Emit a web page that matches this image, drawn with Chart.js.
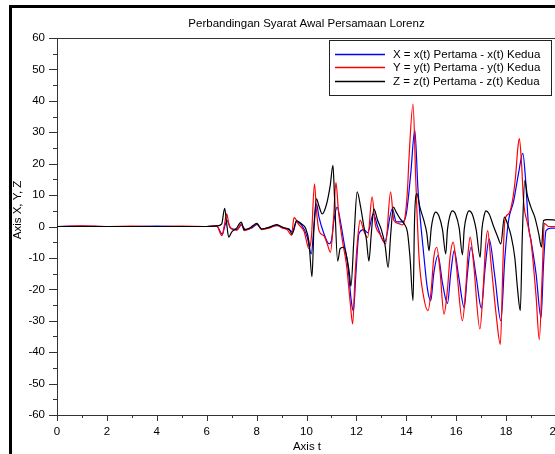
<!DOCTYPE html>
<html lang="id">
<head>
    <meta charset="UTF-8">
    <title>Perbandingan Syarat Awal Persamaan Lorenz</title>
    <script src="https://cdn.jsdelivr.net/npm/chart.js"></script>
    <style>
        html, body { margin: 0; padding: 0; background: #fff; width: 555px; height: 454px; overflow: hidden; }
        #frame { position: absolute; left: 9px; top: 5px; width: 620px; height: 470px; border-left: 3px solid #000; border-top: 3px solid #000; }
        #lorenzChart { position: absolute; left: 0; top: 0; }
    </style>
</head>
<body>
    <div id="frame"></div>
    <canvas id="lorenzChart" width="600" height="454"></canvas>
    <script>
        // selisih x(t): pertama - kedua
        const tX = [0, 1, 2, 3, 4, 5, 6, 6.4, 6.63, 6.72, 6.82, 6.95, 7.2, 7.4, 7.55, 7.8, 8.02, 8.2, 8.5, 8.82,
            9.1, 9.3, 9.45, 9.6, 9.8, 10.03, 10.19, 10.3, 10.4, 10.5, 10.7, 10.9, 11.0, 11.1, 11.23, 11.35, 11.5,
            11.65, 11.8, 11.88, 11.98, 12.1, 12.3, 12.45, 12.68, 12.85, 13.13, 13.44, 13.6, 13.85, 14.0, 14.18,
            14.34, 14.47, 14.71, 14.85, 14.98, 15.1, 15.27, 15.45, 15.65, 15.78, 15.92, 16.1, 16.32, 16.45, 16.59,
            16.8, 17.01, 17.15, 17.32, 17.55, 17.79, 17.95, 18.1, 18.3, 18.5, 18.67, 18.78, 18.9, 19.0, 19.2, 19.4,
            19.5, 19.6, 19.8, 20];
        const X = [0, 0.1, 0, 0, 0.1, 0, 0, 0.1, -2.5, 0, 1.9, -0.5, -1.0, 0.5, -1.0, -0.5, 0.7, -0.8, -0.3, 0.3,
            -0.5, -1.0, -1.8, 1.5, 0.5, -3.4, -8.7, 0, 7.2, 3, -2.3, -5.5, -4.5, 2, 6.2, 2, -5,
            -12, -24, -27, -15, -2.3, -1, -2, 4, 0, -5, 5.6, 1.5, 1.5, 4, 17,
            30.7, 11.5, -9.8, -20, -23.6, -15, -9.3, -18, -24.5, -15, -7.7, -16, -25.8, -15, -6.6,
            -16, -26, -14, -4, -16, -30, -10, 2, 8, 17, 23.3, 15, 0, -4.5, -15, -29,
            -12, -1.3, -0.5, -0.5];

        // selisih y(t)
        const tY = [0, 1, 2, 3, 4, 5, 6, 6.4, 6.61, 6.7, 6.8, 6.9, 7.0, 7.2, 7.4, 7.5, 7.7, 8.02, 8.2, 8.5, 8.82,
            9.0, 9.22, 9.4, 9.5, 9.7, 9.9, 10.1, 10.2, 10.32, 10.4, 10.5, 10.7, 10.83, 10.96, 11.08, 11.18, 11.28,
            11.45, 11.6, 11.75, 11.85, 11.95, 12.05, 12.15, 12.3, 12.45, 12.63, 12.75, 12.95, 13.17, 13.37, 13.5,
            13.7, 13.84, 13.95, 14.05, 14.11, 14.27, 14.38, 14.51, 14.7, 14.87, 15.0, 15.1, 15.22, 15.35, 15.51,
            15.65, 15.75, 15.88, 16.0, 16.25, 16.38, 16.47, 16.56, 16.7, 16.95, 17.08, 17.18, 17.26, 17.4, 17.6,
            17.77, 17.88, 17.95, 18.1, 18.25, 18.38, 18.47, 18.53, 18.62, 18.7, 18.86, 19.0, 19.2, 19.33, 19.45,
            19.53, 19.7, 20];
        const Y = [0, 0.2, 0, 0.1, 0, 0.1, 0, 0.2, -2.9, 0, 4, 0.5, -0.8, -1.2, 0.9, -1.3, -0.8, 0.9, -1.0, -0.5, 0.5,
            -0.4, -1.0, -2.8, 2.8, 0.5, -1.5, -7.1, -3, 13.6, 5, -1.3, -3, -5.5, -8.2, 2, 14, 5,
            -5, -12, -24, -31, -15, -4, 2, -1.5, -3.5, 9.4, 1, -2.5, -5.5, 11, 2,
            0.9, 0.5, 3, 12, 22, 39, 14.7, -9.8, -22.6, -26.8, -20, -10, -6.6, -14, -27.9,
            -20, -10, -5, -12, -30, -20, -9, -3.4, -12, -32.6, -20, -6, -1.3, -12, -28,
            -37.5, -10, 2, 4, 8, 16, 25, 28, 20, 8, 0.9, -5, -22, -36, -15,
            1, 0, 0];

        // selisih z(t)
        const tZ = [0, 1, 2, 3, 4, 5, 6, 6.4, 6.6, 6.72, 6.8, 6.88, 7.0, 7.2, 7.38, 7.5, 7.7, 7.85, 8.0, 8.2, 8.5,
            8.8, 9.1, 9.3, 9.42, 9.6, 9.8, 9.96, 10.1, 10.22, 10.3, 10.4, 10.5, 10.63, 10.8, 10.95, 11.06, 11.12,
            11.25, 11.35, 11.5, 11.62, 11.72, 11.78, 11.9, 12.03, 12.17, 12.3, 12.4, 12.5, 12.6, 12.7, 12.85, 13.0,
            13.15, 13.27, 13.38, 13.48, 13.6, 13.75, 13.9, 14.05, 14.15, 14.27, 14.33, 14.42, 14.55, 14.7, 14.82,
            14.91, 15.0, 15.08, 15.18, 15.3, 15.45, 15.58, 15.65, 15.75, 15.85, 15.97, 16.12, 16.25, 16.32, 16.42,
            16.52, 16.64, 16.8, 16.96, 17.03, 17.12, 17.19, 17.32, 17.5, 17.65, 17.79, 17.93, 18.05, 18.2, 18.35,
            18.46, 18.57, 18.65, 18.75, 18.85, 19.0, 19.15, 19.3, 19.42, 19.5, 19.65, 20];
        const Z = [0, 0, 0, 0, 0, 0, 0, 0.2, 0.8, 5.8, 1.0, -3.4, -1.8, -0.5, 1.4, -1.0, -0.6, 0.2, 1.0, -0.8, -0.3,
            0.6, -0.4, -0.8, -2.5, 1.9, 0.8, -0.5, -5, -16, 0, 8.8, 6.5, 4.0, 7, 13, 19.5, 10,
            -11, -7, -6.6, -10, -15, -19, -4, 11, 6.2, 0, -4, -11, -2, 5.6, 2, -1,
            -6, -13, -2, 6.2, 4.5, 2.5, 1, -2, -10, -23.6, 2, 10.5, 6, 2, -2,
            -7.7, -0.5, 3, 4.6, 3.5, -1, -8.7, -1, 3.5, 5, 4, -0.5, -9, -1, 3.5,
            5, 4, -1, -9.8, -1, 3.5, 5, 4, 0, -3, -5.5, 3, 1, -3, -10,
            -20, -26.8, -3, 14.7, 10, 6, 3, -2, -6.6, 1.9, 2.2, 2];

        const xTicks = [0, 2, 4, 6, 8, 10, 12, 14, 16, 18, 20];
        const yTicks = [-60, -50, -40, -30, -20, -10, 0, 10, 20, 30, 40, 50, 60];

        const toPoints = (ts, vs) => ts.map((t, i) => ({ x: t, y: vs[i] }));

        const fontFamily = '"Liberation Sans", Arial, sans-serif';
        Chart.defaults.font.family = fontFamily;
        Chart.defaults.font.size = 11.5;
        Chart.defaults.color = '#000';

        // sumbu gaya scilab: garis atas, tick mayor/minor, judul sumbu, legenda di dalam plot
        const scilabAxes = {
            id: 'scilabAxes',
            afterDraw(chart) {
                const { ctx, chartArea: a, scales: { x, y } } = chart;
                ctx.save();
                ctx.strokeStyle = '#333';
                ctx.lineWidth = 1;
                ctx.beginPath();
                ctx.moveTo(a.left, a.top + 0.5);
                ctx.lineTo(a.right, a.top + 0.5);
                for (let v = -60; v <= 60; v += 5) {
                    const py = Math.round(y.getPixelForValue(v)) + 0.5;
                    const len = v % 10 === 0 ? 8 : 4;
                    ctx.moveTo(a.left - len, py);
                    ctx.lineTo(a.left, py);
                }
                for (let t = 0; t <= 20; t += 1) {
                    const px = Math.round(x.getPixelForValue(t)) + 0.5;
                    const len = t % 2 === 0 ? 6 : 3;
                    ctx.moveTo(px, a.bottom);
                    ctx.lineTo(px, a.bottom + len);
                }
                ctx.stroke();

                ctx.fillStyle = '#000';
                ctx.font = '11.5px ' + fontFamily;
                ctx.textAlign = 'center';
                ctx.textBaseline = 'middle';
                ctx.fillText('Axis t', 307, 447);
                ctx.save();
                ctx.translate(18, 210);
                ctx.rotate(-Math.PI / 2);
                ctx.fillText('Axis X, Y, Z', 0, 0);
                ctx.restore();

                // legenda
                const lx = 329.5, ly = 40.5, lw = 222, lh = 55;
                ctx.fillStyle = '#fff';
                ctx.fillRect(lx, ly, lw, lh);
                ctx.strokeStyle = '#222';
                ctx.strokeRect(lx, ly, lw, lh);
                ctx.textAlign = 'left';
                const rows = [54.5, 67.5, 81.5];
                chart.data.datasets.forEach((ds, i) => {
                    ctx.strokeStyle = ds.borderColor;
                    ctx.lineWidth = 1.5;
                    ctx.beginPath();
                    ctx.moveTo(335, rows[i]);
                    ctx.lineTo(385, rows[i]);
                    ctx.stroke();
                    ctx.fillStyle = '#000';
                    ctx.fillText(ds.label, 393, rows[i]);
                });
                ctx.restore();
            }
        };

        const lorenzChart = new Chart(document.getElementById('lorenzChart'), {
            type: 'line',
            data: {
                datasets: [
                    { label: 'X = x(t) Pertama - x(t) Kedua', data: toPoints(tX, X), borderColor: '#0000ff', order: 3 },
                    { label: 'Y = y(t) Pertama - y(t) Kedua', data: toPoints(tY, Y), borderColor: '#ff0000', order: 2 },
                    { label: 'Z = z(t) Pertama - z(t) Kedua', data: toPoints(tZ, Z), borderColor: '#000000', order: 1 }
                ]
            },
            options: {
                responsive: false,
                animation: false,
                devicePixelRatio: 1,
                layout: { padding: { left: 0, right: 44, top: 0, bottom: 0 } },
                elements: {
                    point: { radius: 0 },
                    line: { borderWidth: 1.2, cubicInterpolationMode: 'monotone' }
                },
                plugins: {
                    legend: { display: false },
                    tooltip: { enabled: false },
                    title: {
                        display: true,
                        fullSize: false,
                        text: 'Perbandingan Syarat Awal Persamaan Lorenz',
                        font: { size: 11.5, weight: 'normal' },
                        padding: { top: 17, bottom: 7.2 }
                    }
                },
                scales: {
                    x: {
                        type: 'linear',
                        min: 0,
                        max: 20,
                        afterBuildTicks: s => { s.ticks = xTicks.map(v => ({ value: v })); },
                        afterFit: s => { s.height = 39; },
                        ticks: { padding: 10, maxRotation: 0, autoSkip: false },
                        grid: { display: false, drawTicks: false },
                        border: { display: true, color: '#333' }
                    },
                    y: {
                        min: -60,
                        max: 60,
                        afterBuildTicks: s => { s.ticks = yTicks.map(v => ({ value: v })); },
                        afterFit: s => { s.width = 57; },
                        ticks: { padding: 12, autoSkip: false },
                        grid: { display: false, drawTicks: false },
                        border: { display: true, color: '#333' }
                    }
                }
            },
            plugins: [scilabAxes]
        });
    </script>
</body>
</html>
